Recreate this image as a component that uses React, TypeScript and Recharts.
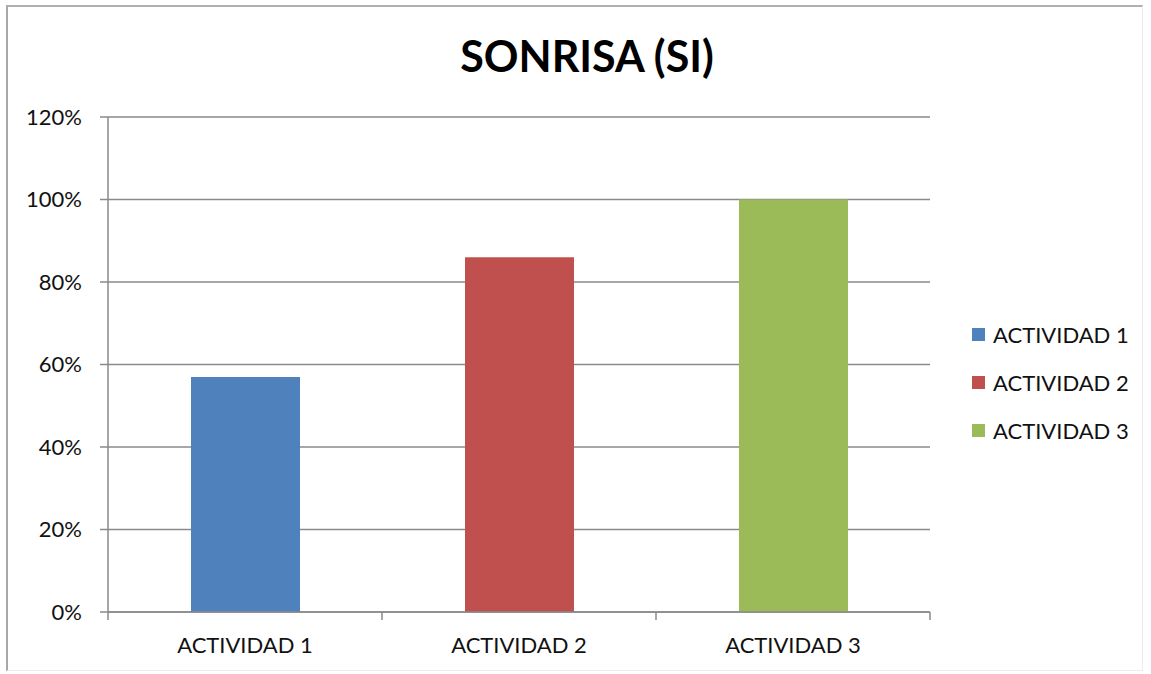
import { BarChart, Bar, XAxis, YAxis, CartesianGrid, Legend, Cell } from "recharts";

const title = "SONRISA (SI)";
const categories = ["ACTIVIDAD 1", "ACTIVIDAD 2", "ACTIVIDAD 3"];
const values = [0.57, 0.86, 1.0];
const colors = ["#4F81BD", "#C0504D", "#9BBB59"];
const yTicks = [0, 0.2, 0.4, 0.6, 0.8, 1.0, 1.2];

const data = categories.map((name, i) => ({ name, value: values[i] }));

const AXIS = "#8a8a8a";
const FONT = "Lato, 'Open Sans', sans-serif";

function CategoryTick(props: any) {
  const { x, y, payload, index } = props;
  const half = payload?.offset ?? 137;
  const axisY = y - 25;
  return (
    <g>
      <line x1={x - half} y1={axisY} x2={x - half} y2={axisY + 8} stroke={AXIS} strokeWidth={1.5} />
      {index === categories.length - 1 && (
        <line x1={x + half} y1={axisY} x2={x + half} y2={axisY + 8} stroke={AXIS} strokeWidth={1.5} />
      )}
      <text x={x} y={y} dy="0.71em" textAnchor="middle" fontSize={22} fill="#111" fontFamily={FONT}>
        {payload.value}
      </text>
    </g>
  );
}

function SideLegend() {
  return (
    <div style={{ fontFamily: FONT }}>
      {categories.map((c, i) => (
        <div key={c} style={{ display: "flex", alignItems: "center", height: 48 }}>
          <span style={{ display: "inline-block", width: 13, height: 13, background: colors[i], marginRight: 8 }} />
          <span style={{ fontSize: 22, color: "#111" }}>{c}</span>
        </div>
      ))}
    </div>
  );
}

export default function App() {
  return (
    <div style={{ position: "absolute", left: 0, top: 0, width: 1151, height: 674, background: "#fff", fontFamily: FONT }}>
      <div
        style={{
          position: "absolute",
          left: 6,
          top: 5,
          width: 1134,
          height: 663,
          borderLeft: "2px solid #a8a8a8",
          borderTop: "2px solid #b0b0b0",
          borderRight: "1px solid #ececec",
          borderBottom: "1px solid #ececec",
        }}
      />
      <div
        style={{
          position: "absolute",
          left: 387,
          top: 36,
          width: 400,
          textAlign: "center",
          fontSize: 43,
          lineHeight: "40px",
          fontWeight: 700,
          color: "#000",
        }}
      >
        {title}
      </div>
      <BarChart
        width={1151}
        height={674}
        data={data}
        margin={{ top: 117, right: 221, bottom: 22, left: 0 }}
        style={{ position: "absolute", left: 0, top: 0 }}
      >
        <CartesianGrid vertical={false} stroke={AXIS} strokeWidth={1.5} />
        <XAxis
          dataKey="name"
          height={40}
          axisLine={{ stroke: AXIS, strokeWidth: 1.5 }}
          tickLine={false}
          tickSize={0}
          tickMargin={25}
          tick={<CategoryTick />}
          interval={0}
        />
        <YAxis
          width={108}
          domain={[0, 1.2]}
          ticks={yTicks}
          interval={0}
          axisLine={{ stroke: AXIS, strokeWidth: 1.5 }}
          tickLine={{ stroke: AXIS, strokeWidth: 1.5 }}
          tickSize={8}
          tickMargin={18}
          tick={{ fontSize: 22, fill: "#111", fontFamily: FONT }}
          tickFormatter={(v: number) => `${Math.round(v * 100)}%`}
        />
        <Legend
          layout="vertical"
          align="center"
          verticalAlign="middle"
          content={<SideLegend />}
          wrapperStyle={{ position: "absolute", left: 972, top: 310, width: 170 }}
        />
        <Bar dataKey="value" barSize={109} isAnimationActive={false}>
          {data.map((d, i) => (
            <Cell key={d.name} fill={colors[i]} />
          ))}
        </Bar>
      </BarChart>
    </div>
  );
}
